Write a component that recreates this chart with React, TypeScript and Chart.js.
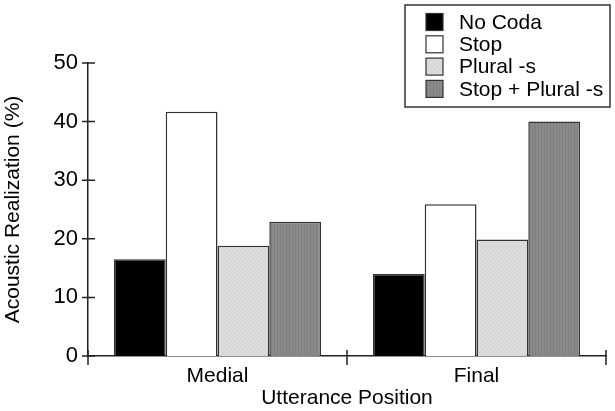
import React, { useEffect, useRef } from "react";
import { Chart, registerables } from "chart.js";

Chart.register(...registerables);

const categories = ["Medial", "Final"];
const seriesLabels = ["No Coda", "Stop", "Plural -s", "Stop + Plural -s"];
const noCoda = [16.5, 14.0];
const stop = [41.7, 25.9];
const pluralS = [18.8, 19.9];
const stopPlural = [22.9, 40.0];
const yTicks = [0, 10, 20, 30, 40, 50];

const FONT = "'Liberation Sans', Arial, sans-serif";
const INK = "#222";

function diagPattern(): CanvasPattern | string {
  const c = document.createElement("canvas");
  c.width = 4;
  c.height = 4;
  const g = c.getContext("2d");
  if (!g) return "#dadada";
  g.fillStyle = "#dddddd";
  g.fillRect(0, 0, 4, 4);
  g.fillStyle = "#d0d0d0";
  for (let i = 0; i < 4; i++) g.fillRect(3 - i, i, 1, 1);
  const p = g.createPattern(c, "repeat");
  return p || "#dadada";
}

function vertPattern(): CanvasPattern | string {
  const c = document.createElement("canvas");
  c.width = 3;
  c.height = 3;
  const g = c.getContext("2d");
  if (!g) return "#878787";
  g.fillStyle = "#8a8a8a";
  g.fillRect(0, 0, 3, 3);
  g.fillStyle = "#7f7f7f";
  g.fillRect(1, 0, 1, 3);
  const p = g.createPattern(c, "repeat");
  return p || "#878787";
}

const crossTicks = {
  id: "crossTicks",
  afterDraw(chart: any) {
    const ctx = chart.ctx;
    const x = chart.scales.x;
    const y = chart.scales.y;
    ctx.save();
    ctx.strokeStyle = INK;
    ctx.lineWidth = 1.5;
    ctx.beginPath();
    yTicks.forEach((v) => {
      const py = y.getPixelForValue(v);
      ctx.moveTo(x.left - 6, py);
      ctx.lineTo(x.left + 7, py);
    });
    const n = categories.length;
    for (let i = 0; i <= n; i++) {
      const px = x.left + (i * (x.right - x.left)) / n;
      ctx.moveTo(px, y.bottom - 6);
      ctx.lineTo(px, y.bottom + 9);
    }
    ctx.stroke();

    // legend box
    const bx = 405, by = 5, bw = 205, bh = 102;
    ctx.fillStyle = "#fff";
    ctx.fillRect(bx, by, bw, bh);
    ctx.strokeStyle = "#333";
    ctx.lineWidth = 1.5;
    ctx.strokeRect(bx, by, bw, bh);
    ctx.font = `21px ${FONT}`;
    ctx.textBaseline = "middle";
    ctx.textAlign = "left";
    chart.data.datasets.forEach((ds: any, i: number) => {
      const cy = 22 + i * 22.3;
      ctx.fillStyle = ds.backgroundColor;
      ctx.fillRect(426, cy - 8.5, 17, 17);
      ctx.strokeStyle = "#333";
      ctx.lineWidth = 1.2;
      ctx.strokeRect(426, cy - 8.5, 17, 17);
      ctx.fillStyle = "#000";
      ctx.fillText(ds.label, 459, cy + 1);
    });
    ctx.restore();
  },
};

export default function App() {
  const ref = useRef<HTMLCanvasElement>(null);
  useEffect(() => {
    if (!ref.current) return;
    const values = [noCoda, stop, pluralS, stopPlural];
    const fills = ["#000000", "#ffffff", diagPattern(), vertPattern()];
    const chart = new Chart(ref.current, {
      type: "bar",
      data: {
        labels: categories,
        datasets: values.map((d, i) => ({
          label: seriesLabels[i],
          data: d,
          backgroundColor: fills[i] as any,
          borderColor: "#333",
          borderWidth: 1.5,
          categoryPercentage: 0.8,
          barPercentage: 1.0,
        })),
      },
      options: {
        responsive: false,
        animation: false,
        layout: { padding: { top: 63, right: 9, left: 0, bottom: 0 } },
        plugins: { legend: { display: false }, tooltip: { enabled: false } },
        scales: {
          x: {
            grid: { display: false, drawTicks: false },
            border: { display: true, color: INK, width: 1.5 },
            ticks: { color: "#000", font: { family: FONT, size: 21 }, padding: 8 },
            title: {
              display: true,
              text: "Utterance Position",
              color: "#000",
              font: { family: FONT, size: 21 },
              padding: { top: 0, bottom: 0 },
            },
            afterFit: (s: any) => {
              s.height = 55;
            },
          },
          y: {
            min: 0,
            max: 50,
            grid: { display: false, drawTicks: false },
            border: { display: true, color: INK, width: 1.5 },
            ticks: {
              stepSize: 10,
              color: "#000",
              font: { family: FONT, size: 22 },
              padding: 10,
            },
            title: {
              display: true,
              text: "Acoustic Realization (%)",
              color: "#000",
              font: { family: FONT, size: 21 },
              padding: { top: 1, bottom: 0 },
            },
            afterFit: (s: any) => {
              s.width = 88;
            },
          },
        },
      },
      plugins: [crossTicks],
    });
    return () => chart.destroy();
  }, []);
  return (
    <div style={{ position: "fixed", left: 0, top: 0, width: 615, height: 411, background: "#fff" }}>
      <canvas ref={ref} width={615} height={411} />
    </div>
  );
}
